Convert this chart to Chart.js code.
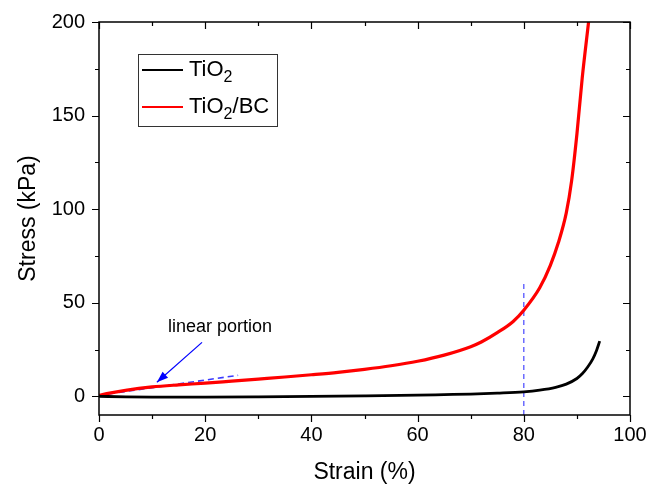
<!DOCTYPE html>
<html>
<head>
<meta charset="utf-8">
<script src="https://cdn.jsdelivr.net/npm/chart.js@4.4.0/dist/chart.umd.min.js"></script>
<style>
  html, body { margin: 0; padding: 0; background: #fff; }
  #wrap { width: 654px; height: 491px; }
</style>
</head>
<body>
<div id="wrap"><canvas id="grafico" width="654" height="491"></canvas></div>
<script>
// Datos
const strainTiO2 = [0, 5, 10, 20, 30, 40, 50, 60, 65, 70, 75, 80, 83, 86, 88, 90, 91, 92, 93, 93.7, 94.3];
const stressTiO2 = [0, -0.3, -0.4, -0.4, -0.3, -0.1, 0.2, 0.6, 0.9, 1.2, 1.7, 2.4, 3.3, 4.8, 6.5, 9.5, 12, 15.5, 20, 24.5, 29.5];

const strainBC = [0, 2, 5, 10, 15, 20, 25, 30, 35, 40, 45, 50, 55, 60, 65, 70, 72, 75, 78, 80, 83, 85, 86.5, 88, 89, 90, 91, 92.2];
const stressBC = [0.5, 1.7, 3.2, 5.0, 6.1, 7.0, 8.1, 9.2, 10.3, 11.5, 12.8, 14.4, 16.3, 18.7, 22, 26.5, 29, 34, 40, 46, 58, 70, 82, 98, 115, 140, 170, 200];

// recta de la porción lineal y línea vertical en 80 %
const fitStrain = [0, 26.2];
const fitStress = [0.5, 11.2];
const markStrain = [80, 80];
const markStress = [-10, 62];

const xTicks = [0, 20, 40, 60, 80, 100];
const yTicks = [0, 50, 100, 150, 200];
const xMinor = [0, 10, 20, 30, 40, 50, 60, 70, 80, 90, 100];
const yMinor = [0, 25, 50, 75, 100, 125, 150, 175, 200];

const seriesNames = ['TiO', 'TiO'];
const seriesSuffix = ['', '/BC'];

// anotación: flecha y texto (en unidades de datos)
const arrowFrom = [19.4, 28.8];
const arrowTo = [10.9, 7.5];
const noteAt = [22.8, 37];
const noteText = 'linear portion';

const FONT = '"Liberation Sans", Arial, sans-serif';

function puntos(xs, ys) {
  return xs.map((x, i) => ({ x, y: ys[i] }));
}

const marco = {
  id: 'marco',
  afterDraw(chart) {
    const { ctx, chartArea: a, scales: { x, y } } = chart;
    ctx.save();
    ctx.strokeStyle = '#000';
    ctx.lineWidth = 1.5;
    ctx.strokeRect(a.left, a.top, a.right - a.left, a.bottom - a.top);

    ctx.lineWidth = 1.2;
    ctx.beginPath();
    xMinor.forEach(v => {
      const px = Math.round(x.getPixelForValue(v)) + 0.5;
      const len = v % 20 === 0 ? 7 : 4;
      ctx.moveTo(px, a.bottom); ctx.lineTo(px, a.bottom + len);
      ctx.moveTo(px, a.top); ctx.lineTo(px, a.top + len);
    });
    yMinor.forEach(v => {
      const py = Math.round(y.getPixelForValue(v)) + 0.5;
      const len = v % 50 === 0 ? 7 : 4;
      ctx.moveTo(a.left, py); ctx.lineTo(a.left - len, py);
      ctx.moveTo(a.right, py); ctx.lineTo(a.right - len, py);
    });
    ctx.stroke();

    // leyenda
    const lx = 138, ly = 54;
    ctx.lineWidth = 1;
    ctx.strokeStyle = '#333';
    ctx.strokeRect(lx + 0.5, ly + 0.5, 139, 72);
    chart.data.datasets.slice(0, 2).forEach((ds, i) => {
      const yy = ly + 16 + i * 37;
      ctx.strokeStyle = ds.borderColor;
      ctx.lineWidth = 2;
      ctx.beginPath();
      ctx.moveTo(lx + 4, yy); ctx.lineTo(lx + 45, yy);
      ctx.stroke();
      ctx.fillStyle = '#000';
      ctx.textBaseline = 'middle';
      ctx.textAlign = 'left';
      ctx.font = '22px ' + FONT;
      let tx = lx + 51;
      ctx.fillText(seriesNames[i], tx, yy);
      tx += ctx.measureText(seriesNames[i]).width;
      ctx.font = '16px ' + FONT;
      ctx.fillText('2', tx, yy + 8);
      tx += ctx.measureText('2').width;
      ctx.font = '22px ' + FONT;
      ctx.fillText(seriesSuffix[i], tx, yy);
    });

    // flecha
    const x0 = x.getPixelForValue(arrowFrom[0]), y0 = y.getPixelForValue(arrowFrom[1]);
    const x1 = x.getPixelForValue(arrowTo[0]), y1 = y.getPixelForValue(arrowTo[1]);
    ctx.strokeStyle = '#0000ff';
    ctx.fillStyle = '#0000ff';
    ctx.lineWidth = 1.2;
    ctx.beginPath();
    ctx.moveTo(x0, y0); ctx.lineTo(x1, y1);
    ctx.stroke();
    const ang = Math.atan2(y1 - y0, x1 - x0);
    ctx.beginPath();
    ctx.moveTo(x1, y1);
    ctx.lineTo(x1 - 12 * Math.cos(ang - 0.35), y1 - 12 * Math.sin(ang - 0.35));
    ctx.lineTo(x1 - 12 * Math.cos(ang + 0.35), y1 - 12 * Math.sin(ang + 0.35));
    ctx.closePath();
    ctx.fill();

    ctx.fillStyle = '#000';
    ctx.font = '18px ' + FONT;
    ctx.textAlign = 'center';
    ctx.textBaseline = 'middle';
    ctx.fillText(noteText, x.getPixelForValue(noteAt[0]), y.getPixelForValue(noteAt[1]));
    ctx.restore();
  }
};

Chart.defaults.color = '#000';
Chart.defaults.font.family = FONT;

new Chart(document.getElementById('grafico'), {
  type: 'line',
  data: {
    datasets: [
      { data: puntos(strainTiO2, stressTiO2), borderColor: '#000000', borderWidth: 2.8, cubicInterpolationMode: 'monotone' },
      { data: puntos(strainBC, stressBC), borderColor: '#ff0000', borderWidth: 3.2, cubicInterpolationMode: 'monotone' },
      { data: puntos(fitStrain, fitStress), borderColor: '#3a3aff', borderWidth: 1.6, borderDash: [6, 4] },
      { data: puntos(markStrain, markStress), borderColor: '#5555ff', borderWidth: 1.3, borderDash: [5, 4] }
    ]
  },
  options: {
    responsive: false,
    animation: false,
    elements: { point: { radius: 0 } },
    layout: { padding: { top: 22, right: 24, left: 0, bottom: 0 } },
    plugins: { legend: { display: false }, tooltip: { enabled: false } },
    scales: {
      x: {
        type: 'linear',
        min: 0, max: 100,
        afterBuildTicks: s => { s.ticks = xTicks.map(v => ({ value: v })); },
        afterFit: s => { s.height = 76; s.paddingLeft = 0; s.paddingRight = 0; },
        grid: { display: false, drawTicks: false },
        border: { display: false },
        ticks: { font: { size: 20 }, padding: 8, maxRotation: 0 },
        title: { display: true, text: 'Strain (%)', font: { size: 23 }, padding: { top: 0, bottom: 5 } }
      },
      y: {
        type: 'linear',
        min: -10, max: 200,
        afterBuildTicks: s => { s.ticks = yTicks.map(v => ({ value: v })); },
        afterFit: s => { s.width = 99; s.paddingTop = 0; s.paddingBottom = 0; },
        grid: { display: false, drawTicks: false },
        border: { display: false },
        ticks: { font: { size: 20 }, padding: 14 },
        title: { display: true, text: 'Stress (kPa)', font: { size: 23 }, padding: { top: 15, bottom: 0 } }
      }
    }
  },
  plugins: [marco]
});
</script>
</body>
</html>
